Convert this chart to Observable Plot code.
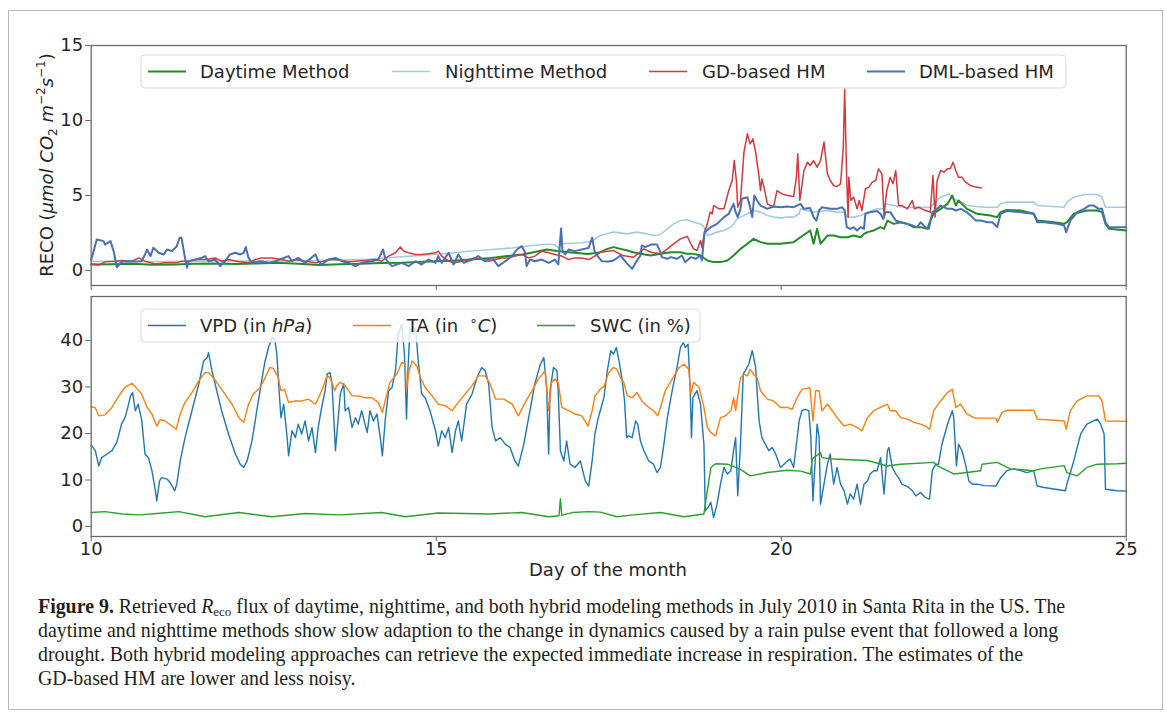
<!DOCTYPE html>
<html>
<head>
<meta charset="utf-8">
<script src="https://cdn.jsdelivr.net/npm/d3@7"></script>
<script src="https://cdn.jsdelivr.net/npm/@observablehq/plot@0.6"></script>
<style>
  html, body { margin: 0; padding: 0; background: #fff; }
  body { width: 1167px; height: 715px; position: relative; overflow: hidden; font-family: "DejaVu Sans", sans-serif; }
  #frame { position: absolute; left: 8px; top: 10px; width: 1155px; height: 700px; border: 1.5px solid #b8b8b8; box-sizing: border-box; }
  #reco { position: absolute; left: 0; top: 0; }
  #meteo { position: absolute; left: 0; top: 290px; }
  #caption { position: absolute; left: 38px; top: 594px; font-family: "Liberation Serif", serif; font-size: 19.9px; line-height: 24px; color: #231f20; white-space: nowrap; }
  #caption sub { font-size: 13px; vertical-align: -3px; line-height: 0; }
</style>
</head>
<body>
<div id="frame"></div>
<div id="reco"></div>
<div id="meteo"></div>
<div id="caption">
  <div><b>Figure 9.</b> Retrieved <i>R</i><sub>eco</sub> flux of daytime, nighttime, and both hybrid modeling methods in July 2010 in Santa Rita in the US. The</div>
  <div>daytime and nighttime methods show slow adaption to the change in dynamics caused by a rain pulse event that followed a long</div>
  <div>drought. Both hybrid modeling approaches can retrieve the expected immediate increase in respiration. The estimates of the</div>
  <div>GD-based HM are lower and less noisy.</div>
</div>
<script>
// ---- axis ticks ----
const dayTicks = [10, 15, 20, 25];
const recoTicks = [0, 5, 10, 15];
const meteoTicks = [0, 10, 20, 30, 40];

// ---- RECO series: [day of month, µmol CO2 m-2 s-1] ----
const daytime = [[10.0,0.4],[10.3,0.42],[10.6,0.45],[10.9,0.38],[11.2,0.4],[11.5,0.45],[11.8,0.47],[12.1,0.44],[12.4,0.46],[12.7,0.52],[13.0,0.45],[13.3,0.36],[13.6,0.42],[13.9,0.45],[14.2,0.5],[14.5,0.52],[14.8,0.58],[15.0,0.62],[15.3,0.67],[15.5,0.73],[15.8,0.84],[16.0,0.95],[16.25,1.07],[16.5,1.3],[16.6,1.4],[16.75,1.3],[17.0,1.18],[17.2,1.1],[17.38,1.22],[17.48,1.44],[17.57,1.56],[17.67,1.44],[17.77,1.33],[17.86,1.22],[17.96,1.11],[18.11,1.0],[18.25,1.11],[18.4,1.22],[18.54,1.22],[18.64,1.11],[18.73,1.11],[18.83,1.0],[18.93,0.67],[19.02,0.56],[19.12,0.56],[19.22,0.67],[19.31,1.0],[19.36,1.22],[19.41,1.44],[19.51,1.78],[19.6,2.11],[19.7,1.89],[19.8,1.78],[19.99,1.78],[20.18,1.89],[20.28,2.22],[20.42,2.67],[20.47,1.78],[20.52,2.78],[20.57,1.78],[20.67,2.33],[20.76,2.33],[20.86,2.22],[20.96,2.22],[21.05,2.33],[21.15,2.22],[21.2,2.44],[21.25,2.56],[21.34,2.67],[21.44,2.89],[21.49,2.78],[21.54,3.33],[21.63,3.11],[21.73,3.22],[21.83,3.11],[21.92,2.89],[22.02,2.89],[22.12,2.78],[22.16,3.33],[22.21,3.78],[22.31,4.11],[22.41,4.44],[22.48,5.0],[22.53,4.33],[22.57,4.67],[22.62,4.44],[22.69,4.11],[22.84,3.78],[23.03,3.67],[23.13,3.56],[23.18,3.89],[23.27,4.04],[23.47,4.0],[23.66,3.78],[23.71,3.33],[23.95,3.22],[24.1,3.11],[24.14,3.22],[24.24,3.78],[24.34,3.89],[24.43,4.0],[24.58,4.0],[24.65,3.89],[24.7,3.11],[24.75,2.78],[25.0,2.67]];

const nighttime = [[10.0,0.62],[10.5,0.6],[11.0,0.6],[11.5,0.62],[12.0,0.64],[12.5,0.62],[13.0,0.65],[13.5,0.68],[14.0,0.75],[14.3,0.85],[14.6,0.95],[14.9,1.05],[15.2,1.15],[15.5,1.3],[15.8,1.4],[16.1,1.5],[16.35,1.65],[16.6,1.75],[16.72,1.72],[16.77,1.5],[16.83,1.78],[17.1,1.85],[17.25,1.95],[17.38,2.33],[17.57,2.56],[17.77,2.44],[17.91,2.56],[18.06,2.44],[18.15,2.33],[18.25,2.4],[18.35,2.78],[18.44,3.11],[18.54,3.33],[18.64,3.38],[18.73,3.22],[18.83,3.11],[18.88,2.89],[18.93,2.33],[19.0,2.44],[19.07,2.56],[19.17,2.67],[19.27,2.89],[19.31,3.11],[19.36,3.44],[19.41,3.56],[19.51,3.78],[19.6,4.0],[19.7,3.89],[19.8,3.67],[19.89,3.56],[19.99,3.51],[20.09,3.56],[20.18,3.56],[20.26,3.78],[20.28,4.11],[20.47,3.89],[20.67,4.0],[20.81,3.89],[20.91,3.89],[20.96,3.56],[21.05,3.56],[21.15,3.67],[21.25,3.89],[21.39,4.11],[21.49,4.11],[21.51,4.44],[21.63,4.33],[21.78,4.22],[21.97,4.22],[22.16,4.22],[22.21,4.44],[22.31,4.89],[22.43,5.11],[22.5,4.78],[22.6,4.56],[22.69,4.33],[22.94,4.22],[23.13,4.22],[23.18,4.44],[23.27,4.56],[23.66,4.56],[23.71,4.33],[24.1,4.22],[24.14,4.56],[24.24,4.89],[24.39,5.07],[24.58,5.07],[24.65,4.89],[24.7,4.22],[25.0,4.22]];

const gdHM = [[10.0,0.44],[10.11,0.36],[10.2,0.58],[10.35,0.62],[10.44,0.67],[10.59,0.62],[10.69,0.84],[10.78,0.62],[10.93,0.44],[11.07,0.51],[11.22,0.51],[11.31,0.62],[11.41,0.62],[11.51,0.73],[11.65,0.73],[11.8,0.84],[11.89,0.62],[11.99,0.73],[12.14,0.58],[12.28,0.51],[12.38,0.73],[12.47,0.84],[12.62,0.84],[12.76,0.73],[12.86,0.62],[12.96,0.73],[13.1,0.62],[13.25,0.51],[13.34,0.58],[13.44,0.73],[13.54,0.73],[13.63,0.67],[13.73,0.58],[13.83,0.62],[13.97,0.67],[14.12,0.73],[14.21,0.62],[14.31,0.96],[14.41,1.18],[14.48,1.56],[14.53,1.29],[14.6,1.18],[14.7,1.07],[14.79,1.07],[14.89,1.11],[14.99,1.18],[15.03,1.29],[15.08,0.96],[15.18,0.62],[15.27,0.51],[15.37,0.62],[15.47,0.73],[15.57,0.84],[15.66,0.73],[15.76,0.62],[15.86,0.73],[15.95,0.84],[16.05,0.84],[16.14,0.96],[16.24,1.07],[16.34,0.84],[16.43,0.96],[16.53,1.29],[16.63,1.18],[16.72,1.07],[16.82,0.96],[16.92,0.73],[17.01,0.84],[17.11,0.84],[17.21,0.73],[17.3,0.96],[17.38,1.22],[17.57,1.33],[17.7,1.0],[17.86,0.89],[18.01,1.44],[18.12,1.2],[18.25,1.11],[18.35,1.44],[18.44,1.78],[18.54,2.11],[18.64,2.27],[18.69,1.78],[18.73,1.44],[18.78,1.33],[18.83,2.0],[18.85,1.56],[18.89,2.56],[18.93,3.11],[18.97,3.89],[19.0,3.78],[19.02,4.33],[19.1,4.11],[19.17,4.11],[19.24,5.33],[19.29,6.0],[19.32,7.33],[19.35,6.0],[19.37,4.22],[19.41,4.67],[19.46,7.89],[19.51,9.11],[19.55,8.44],[19.59,8.78],[19.63,7.89],[19.68,6.22],[19.7,5.33],[19.72,6.11],[19.75,5.56],[19.8,4.44],[19.84,4.33],[19.89,4.27],[19.94,5.33],[20.01,5.11],[20.09,5.0],[20.18,4.93],[20.22,6.22],[20.24,7.78],[20.27,4.67],[20.33,6.67],[20.38,7.22],[20.42,7.0],[20.47,7.33],[20.52,6.89],[20.57,7.33],[20.62,8.56],[20.67,6.44],[20.71,6.0],[20.76,5.67],[20.81,5.6],[20.86,5.78],[20.9,8.22],[20.92,12.1],[20.95,6.0],[20.97,3.56],[20.98,6.22],[21.01,4.67],[21.05,4.89],[21.1,4.11],[21.13,4.67],[21.17,4.0],[21.22,5.44],[21.27,5.56],[21.32,5.89],[21.37,6.0],[21.41,6.78],[21.46,6.44],[21.49,3.67],[21.53,5.33],[21.58,6.22],[21.62,5.78],[21.66,6.67],[21.7,4.33],[21.75,4.33],[21.83,4.11],[21.9,4.67],[21.93,4.11],[21.99,4.22],[22.04,4.11],[22.09,4.0],[22.16,3.89],[22.2,6.33],[22.23,3.56],[22.26,6.0],[22.31,6.67],[22.36,6.56],[22.41,6.78],[22.45,6.78],[22.49,7.22],[22.53,6.67],[22.57,6.22],[22.62,6.22],[22.67,5.89],[22.74,5.67],[22.82,5.56],[22.9,5.5]];

const dmlHM = [[10.0,0.7],[10.03,1.2],[10.08,2.07],[10.18,1.96],[10.2,1.73],[10.28,1.96],[10.33,1.2],[10.37,0.22],[10.45,0.62],[10.6,0.6],[10.73,0.62],[10.78,1.07],[10.81,1.4],[10.86,0.96],[10.9,1.51],[10.98,1.18],[11.05,1.07],[11.1,1.4],[11.17,1.29],[11.24,1.62],[11.28,2.18],[11.31,2.18],[11.35,1.07],[11.39,0.18],[11.41,0.62],[11.51,0.73],[11.6,0.84],[11.65,0.96],[11.7,0.62],[11.8,0.73],[11.87,0.29],[11.94,0.62],[12.01,1.07],[12.09,1.18],[12.16,1.07],[12.21,1.18],[12.24,1.56],[12.28,0.84],[12.33,0.51],[12.45,0.62],[12.57,0.51],[12.67,0.62],[12.86,0.96],[12.91,0.62],[13.0,0.84],[13.1,0.51],[13.25,1.07],[13.29,0.62],[13.34,0.4],[13.44,0.73],[13.54,0.84],[13.63,0.62],[13.73,0.51],[13.83,0.29],[13.92,0.51],[14.07,0.62],[14.16,0.73],[14.23,1.4],[14.26,0.84],[14.31,0.51],[14.36,0.29],[14.5,0.51],[14.6,0.29],[14.7,0.62],[14.79,0.4],[14.89,0.73],[14.99,0.51],[15.03,0.96],[15.08,0.51],[15.18,1.18],[15.25,0.4],[15.32,1.07],[15.4,0.51],[15.52,0.73],[15.61,0.96],[15.71,0.62],[15.81,0.84],[15.9,0.29],[16.0,0.62],[16.1,0.96],[16.17,1.4],[16.24,1.62],[16.29,1.18],[16.31,0.29],[16.36,0.73],[16.43,0.62],[16.53,0.73],[16.63,0.51],[16.72,0.73],[16.77,0.4],[16.81,2.8],[16.83,1.29],[16.87,1.07],[16.92,1.4],[17.01,1.29],[17.11,1.4],[17.21,1.51],[17.26,2.18],[17.3,1.18],[17.4,0.62],[17.5,0.6],[17.57,0.67],[17.67,1.0],[17.77,0.44],[17.84,0.11],[17.91,0.67],[17.96,1.0],[17.98,1.67],[18.03,1.56],[18.11,1.73],[18.2,1.73],[18.24,1.33],[18.27,0.89],[18.35,0.78],[18.4,0.89],[18.49,0.78],[18.56,1.0],[18.61,0.56],[18.69,0.89],[18.76,0.78],[18.83,1.0],[18.85,0.67],[18.89,2.56],[18.98,2.89],[19.07,3.11],[19.17,3.56],[19.24,3.78],[19.31,4.44],[19.34,3.89],[19.37,3.56],[19.41,4.11],[19.43,4.78],[19.51,4.89],[19.55,4.22],[19.58,3.56],[19.61,5.0],[19.65,4.67],[19.7,4.33],[19.75,4.22],[19.8,4.11],[19.89,4.27],[19.99,4.22],[20.09,4.27],[20.18,4.22],[20.28,4.44],[20.33,4.11],[20.42,4.16],[20.47,3.56],[20.51,3.33],[20.55,4.0],[20.59,4.22],[20.71,4.11],[20.81,4.11],[20.88,4.22],[20.92,4.0],[20.95,2.89],[21.0,2.78],[21.05,2.89],[21.1,2.67],[21.15,2.89],[21.2,2.78],[21.22,3.78],[21.29,3.89],[21.39,3.96],[21.44,3.78],[21.48,3.44],[21.51,3.89],[21.58,3.89],[21.66,3.33],[21.73,3.22],[21.83,3.11],[21.9,3.0],[21.97,2.89],[22.02,3.22],[22.09,2.89],[22.14,2.78],[22.19,3.89],[22.26,4.11],[22.31,4.33],[22.41,4.11],[22.48,4.11],[22.53,4.0],[22.6,4.11],[22.69,3.89],[22.77,3.56],[22.82,3.33],[22.89,3.33],[22.99,3.22],[23.06,3.22],[23.13,2.89],[23.18,3.78],[23.27,3.96],[23.47,3.89],[23.66,3.78],[23.71,3.22],[23.81,3.22],[24.0,3.11],[24.1,3.0],[24.13,2.56],[24.19,3.33],[24.29,3.89],[24.39,4.11],[24.46,4.33],[24.53,4.33],[24.6,4.11],[24.65,4.11],[24.7,3.22],[24.75,2.89],[25.0,2.89]];

// ---- meteorological drivers: [day of month, value] ----
const vpd = [[10.0,17.5],[10.06,16.3],[10.11,13.0],[10.15,14.8],[10.23,15.6],[10.3,16.3],[10.37,18.1],[10.44,22.0],[10.49,23.4],[10.53,25.6],[10.57,28.1],[10.6,28.8],[10.64,24.9],[10.68,26.3],[10.73,23.1],[10.78,15.6],[10.83,14.8],[10.88,12.0],[10.93,7.7],[10.95,5.5],[10.99,9.8],[11.02,10.5],[11.1,10.2],[11.14,9.5],[11.21,7.7],[11.24,9.1],[11.29,14.1],[11.36,19.1],[11.46,24.9],[11.56,30.7],[11.63,35.6],[11.68,36.3],[11.7,37.4],[11.75,33.5],[11.82,29.2],[11.89,24.9],[11.99,19.9],[12.09,15.6],[12.16,13.4],[12.21,12.7],[12.26,14.1],[12.33,18.4],[12.4,24.9],[12.47,31.3],[12.52,35.6],[12.57,38.5],[12.62,40.6],[12.66,40.3],[12.69,37.1],[12.72,29.9],[12.75,23.4],[12.79,26.3],[12.84,19.1],[12.86,15.2],[12.91,20.6],[12.96,19.1],[13.0,22.0],[13.05,19.9],[13.1,22.7],[13.15,18.4],[13.2,21.3],[13.25,15.9],[13.29,21.3],[13.34,25.6],[13.39,29.2],[13.42,32.8],[13.46,33.1],[13.49,30.7],[13.54,16.3],[13.56,19.9],[13.61,28.5],[13.66,30.7],[13.68,24.9],[13.73,25.6],[13.78,21.3],[13.83,23.4],[13.87,22.0],[13.92,24.9],[14.0,20.2],[14.04,24.9],[14.09,22.7],[14.14,24.2],[14.19,19.1],[14.22,15.2],[14.26,22.7],[14.31,29.2],[14.36,29.9],[14.41,33.5],[14.45,41.4],[14.5,43.5],[14.54,37.1],[14.57,23.1],[14.59,33.5],[14.62,42.8],[14.67,41.4],[14.7,42.8],[14.74,35.6],[14.79,28.5],[14.84,27.7],[14.91,24.9],[14.99,20.6],[15.03,17.3],[15.08,20.6],[15.13,19.1],[15.18,21.3],[15.23,15.9],[15.28,20.6],[15.32,22.7],[15.37,18.4],[15.44,26.3],[15.52,28.5],[15.59,32.0],[15.66,34.2],[15.71,33.5],[15.76,30.7],[15.81,21.3],[15.86,18.4],[15.93,19.1],[16.0,17.7],[16.07,17.0],[16.14,14.1],[16.19,13.0],[16.27,17.7],[16.34,23.4],[16.43,30.7],[16.51,34.9],[16.56,36.3],[16.6,29.9],[16.63,15.6],[16.65,29.2],[16.7,34.2],[16.75,33.5],[16.77,28.5],[16.8,16.3],[16.85,14.1],[16.89,18.4],[16.94,13.4],[17.01,12.7],[17.09,14.1],[17.16,9.8],[17.21,8.7],[17.26,14.1],[17.3,19.9],[17.35,23.4],[17.43,27.7],[17.48,33.5],[17.53,37.8],[17.57,37.1],[17.61,38.5],[17.65,35.6],[17.69,32.0],[17.73,27.0],[17.76,19.1],[17.79,19.5],[17.84,19.1],[17.89,22.7],[17.92,22.0],[17.96,18.4],[18.01,16.3],[18.08,14.1],[18.15,13.4],[18.2,11.6],[18.25,12.7],[18.3,17.7],[18.35,23.4],[18.42,29.2],[18.49,34.2],[18.54,38.5],[18.58,39.6],[18.61,38.5],[18.65,39.2],[18.68,29.9],[18.7,19.1],[18.72,27.7],[18.78,29.2],[18.83,26.3],[18.88,17.7],[18.9,3.4],[18.94,4.1],[18.98,5.2],[19.02,1.9],[19.07,4.8],[19.12,9.1],[19.17,12.7],[19.22,11.3],[19.27,12.0],[19.31,16.3],[19.34,19.1],[19.37,6.6],[19.41,17.7],[19.45,32.8],[19.48,33.5],[19.53,34.9],[19.58,37.8],[19.63,34.2],[19.65,29.2],[19.68,22.7],[19.72,19.1],[19.77,17.7],[19.82,16.3],[19.87,17.0],[19.92,15.6],[19.99,12.7],[20.04,13.4],[20.09,14.1],[20.13,14.5],[20.18,12.7],[20.26,22.7],[20.3,24.9],[20.35,25.2],[20.4,24.9],[20.43,19.1],[20.46,5.5],[20.5,16.3],[20.52,22.0],[20.55,19.1],[20.57,4.8],[20.62,9.1],[20.67,13.4],[20.71,15.6],[20.76,9.1],[20.81,12.7],[20.86,9.1],[20.91,7.7],[20.96,4.8],[21.0,7.0],[21.05,5.9],[21.1,9.1],[21.15,4.8],[21.2,9.1],[21.25,9.8],[21.29,11.3],[21.34,12.0],[21.39,12.0],[21.44,14.8],[21.49,7.0],[21.54,16.3],[21.56,17.0],[21.61,12.7],[21.66,11.3],[21.7,10.5],[21.75,9.1],[21.8,8.8],[21.85,8.4],[21.9,7.7],[21.95,6.6],[22.02,7.3],[22.09,6.2],[22.15,5.9],[22.19,12.0],[22.24,13.4],[22.28,13.4],[22.33,17.7],[22.41,22.0],[22.48,24.9],[22.5,23.4],[22.54,13.0],[22.57,17.7],[22.62,16.3],[22.67,13.4],[22.72,9.8],[22.77,9.1],[22.84,9.1],[22.94,8.8],[23.11,8.7],[23.18,10.5],[23.27,12.0],[23.37,12.4],[23.47,12.0],[23.56,11.6],[23.66,12.0],[23.71,8.7],[23.81,8.4],[24.12,7.7],[24.14,9.1],[24.24,14.1],[24.34,19.9],[24.43,22.0],[24.58,23.1],[24.63,22.0],[24.68,19.9],[24.7,8.0],[24.87,7.7],[25.0,7.6]];

const ta = [[10.0,25.8],[10.06,25.5],[10.11,23.8],[10.2,24.0],[10.3,25.6],[10.4,28.1],[10.49,29.9],[10.59,30.8],[10.66,29.7],[10.73,28.5],[10.81,25.6],[10.88,24.2],[10.95,21.6],[11.0,23.0],[11.07,22.7],[11.17,21.6],[11.23,20.9],[11.29,24.2],[11.36,26.7],[11.46,28.8],[11.56,31.3],[11.65,33.1],[11.7,33.1],[11.77,32.0],[11.89,29.5],[12.04,26.3],[12.14,23.4],[12.21,22.4],[12.28,26.3],[12.35,28.5],[12.45,29.9],[12.52,32.0],[12.59,34.2],[12.64,34.0],[12.71,32.0],[12.75,29.2],[12.8,29.5],[12.86,26.7],[12.96,27.0],[13.05,27.0],[13.15,27.4],[13.25,26.3],[13.34,29.2],[13.42,32.4],[13.46,32.0],[13.53,29.2],[13.56,30.3],[13.61,31.0],[13.68,30.3],[13.78,28.1],[13.87,28.1],[13.97,27.7],[14.07,27.7],[14.16,26.7],[14.22,24.5],[14.26,27.0],[14.33,31.0],[14.43,32.8],[14.5,35.3],[14.55,35.0],[14.57,29.5],[14.6,33.1],[14.65,35.6],[14.72,34.5],[14.77,32.0],[14.84,29.9],[14.94,28.1],[15.03,26.3],[15.13,26.0],[15.23,24.9],[15.32,26.7],[15.42,28.5],[15.52,30.3],[15.61,32.4],[15.71,32.4],[15.78,30.7],[15.86,27.4],[15.98,27.4],[16.1,26.3],[16.19,23.8],[16.29,26.7],[16.39,29.2],[16.48,31.7],[16.58,33.5],[16.63,24.9],[16.67,30.9],[16.72,31.7],[16.77,30.9],[16.82,25.6],[16.92,24.9],[17.01,24.2],[17.11,23.8],[17.2,21.6],[17.26,24.9],[17.3,28.1],[17.4,29.9],[17.43,30.0],[17.5,33.1],[17.57,34.2],[17.62,33.8],[17.67,32.0],[17.72,30.9],[17.77,28.1],[17.84,27.7],[17.91,28.8],[17.98,27.0],[18.08,25.6],[18.15,24.9],[18.21,23.8],[18.25,25.6],[18.32,29.2],[18.42,31.7],[18.52,34.2],[18.59,34.9],[18.66,33.8],[18.69,28.5],[18.73,31.0],[18.81,29.9],[18.88,25.6],[18.93,21.3],[18.98,20.2],[19.05,19.5],[19.12,23.4],[19.19,23.8],[19.27,24.9],[19.31,27.7],[19.34,24.9],[19.41,32.0],[19.46,32.7],[19.51,32.4],[19.55,33.8],[19.6,32.7],[19.65,32.0],[19.7,29.2],[19.8,27.4],[19.89,27.0],[19.99,25.6],[20.09,25.6],[20.16,25.2],[20.23,27.7],[20.3,29.5],[20.38,29.7],[20.415,29.9],[20.46,22.7],[20.5,29.2],[20.55,29.2],[20.59,24.9],[20.67,26.3],[20.74,24.9],[20.81,23.4],[20.91,21.6],[21.0,22.0],[21.1,21.3],[21.17,20.6],[21.25,23.4],[21.34,24.9],[21.44,25.6],[21.54,26.3],[21.58,24.9],[21.66,24.9],[21.73,23.4],[21.83,23.1],[21.92,22.4],[22.02,22.0],[22.09,21.6],[22.15,20.9],[22.21,24.9],[22.31,27.0],[22.41,28.8],[22.48,29.5],[22.53,25.6],[22.6,26.3],[22.69,24.2],[22.79,23.4],[22.86,23.3],[23.11,23.3],[23.13,22.4],[23.2,24.5],[23.27,25.0],[23.66,25.0],[23.71,23.1],[24.1,22.7],[24.13,20.9],[24.19,24.9],[24.29,27.0],[24.43,28.1],[24.6,28.1],[24.65,27.0],[24.7,22.7],[25.0,22.6]];

const swc = [[10.0,3.0],[10.2,3.2],[10.45,2.7],[10.7,2.5],[10.95,2.8],[11.27,3.2],[11.65,2.1],[12.14,3.0],[12.62,2.1],[13.1,2.8],[13.6,2.5],[14.21,3.0],[14.55,2.1],[15.03,2.9],[15.76,2.7],[16.24,3.0],[16.63,2.1],[16.78,2.3],[16.8,6.0],[16.82,2.4],[16.97,3.0],[17.21,3.2],[17.38,3.1],[17.62,2.1],[17.86,2.5],[18.25,3.0],[18.59,2.1],[18.88,2.7],[18.93,7.7],[18.98,12.7],[19.05,13.5],[19.22,13.4],[19.41,12.3],[19.55,10.9],[19.8,11.6],[20.09,12.1],[20.28,11.9],[20.425,11.3],[20.45,14.5],[20.57,15.9],[20.59,14.8],[20.76,14.5],[21.25,14.2],[21.54,13.0],[21.73,13.4],[22.21,13.8],[22.26,13.1],[22.5,11.3],[22.69,11.6],[22.89,12.0],[22.91,13.4],[23.13,13.8],[23.32,12.4],[23.66,12.0],[23.76,12.4],[24.1,13.1],[24.14,11.6],[24.29,10.9],[24.43,12.7],[24.58,13.4],[24.87,13.5],[25.0,13.6]];

const X = d => d[0], Y = d => d[1];
const FONT = "DejaVu Sans";
const INK = "#262626";
const FRAME = "#6a6a6a";

const colors = {
  daytime: "#238b23", nighttime: "#a6cadd", gd: "#d33a3c", dml: "#4a6fb3",
  vpd: "#1f77b4", ta: "#ff7f0e", swc: "#2ca02c"
};

// Build a <text> with mixed segments (italic / raised / lowered)
function richText(sel, parts) {
  for (const p of parts) {
    const t = sel.append("tspan").text(p.t);
    if (p.i) t.attr("font-style", "italic");
    if (p.fs) t.attr("font-size", p.fs);
    if (p.dy) t.attr("dy", p.dy);
  }
  return sel;
}

function legend(svg, box, items) {
  const g = d3.select(svg).append("g").attr("text-anchor", "start");
  g.append("rect")
    .attr("x", box.x).attr("y", box.y).attr("width", box.w).attr("height", box.h)
    .attr("rx", 4).attr("fill", "#fff").attr("fill-opacity", 0.8)
    .attr("stroke", "#d9d9d9").attr("stroke-width", 1);
  const cy = box.y + box.h / 2;
  for (const it of items) {
    g.append("line")
      .attr("x1", it.hx).attr("x2", it.hx + 38).attr("y1", cy).attr("y2", cy)
      .attr("stroke", it.color).attr("stroke-width", it.sw);
    const t = g.append("text")
      .attr("x", it.tx).attr("y", cy + 6.5)
      .attr("text-anchor", "start")
      .attr("font-family", FONT).attr("font-size", 18).attr("fill", INK);
    richText(t, it.parts);
  }
}

// ---- upper panel: ecosystem respiration ----
const reco = Plot.plot({
  width: 1167, height: 290,
  marginLeft: 90.7, marginRight: 41.3, marginTop: 45, marginBottom: 5,
  style: { fontFamily: FONT, fontSize: "18px", color: INK, background: "transparent" },
  x: { domain: [10, 25] },
  y: { domain: [-1, 15] },
  marks: [
    Plot.line(nighttime, { x: X, y: Y, stroke: colors.nighttime, strokeWidth: 1.6 }),
    Plot.line(daytime, { x: X, y: Y, stroke: colors.daytime, strokeWidth: 2 }),
    Plot.line(gdHM, { x: X, y: Y, stroke: colors.gd, strokeWidth: 1.5 }),
    Plot.line(dmlHM, { x: X, y: Y, stroke: colors.dml, strokeWidth: 2 }),
    Plot.frame({ stroke: FRAME, strokeWidth: 1.3 }),
    Plot.axisY(recoTicks, { tickSize: 5.5, tickPadding: 2.5, label: null, stroke: FRAME, fill: INK }),
    Plot.axisX(dayTicks, { tickSize: 5, tickFormat: () => "", label: null, stroke: FRAME })
  ]
});
document.getElementById("reco").append(reco);

legend(reco, { x: 141, y: 55, w: 925, h: 33 }, [
  { hx: 148, tx: 200, color: colors.daytime, sw: 2, parts: [{ t: "Daytime Method" }] },
  { hx: 392, tx: 445, color: colors.nighttime, sw: 1.6, parts: [{ t: "Nighttime Method" }] },
  { hx: 649, tx: 702, color: colors.gd, sw: 1.5, parts: [{ t: "GD-based HM" }] },
  { hx: 867, tx: 919, color: colors.dml, sw: 2, parts: [{ t: "DML-based HM" }] }
]);

// y-axis title with units
const ylab = d3.select(reco).append("text")
  .attr("transform", "translate(53,165) rotate(-90)")
  .attr("text-anchor", "middle")
  .attr("font-family", FONT).attr("font-size", 18).attr("fill", INK);
richText(ylab, [
  { t: "RECO (" },
  { t: "\u03bcmol", i: true },
  { t: " CO", i: true },
  { t: "2", fs: 12, dy: 4 },
  { t: " m", i: true, dy: -4 },
  { t: "\u22122", fs: 12, dy: -8 },
  { t: "s", i: true, dy: 8 },
  { t: "\u22121", fs: 12, dy: -8 },
  { t: ")", dy: 8 }
]);

// ---- lower panel: VPD, air temperature, soil water content ----
const meteo = Plot.plot({
  width: 1167, height: 295,
  marginLeft: 90.7, marginRight: 41.3, marginTop: 6, marginBottom: 49,
  style: { fontFamily: FONT, fontSize: "18px", color: INK, background: "transparent" },
  x: { domain: [10, 25] },
  y: { domain: [-2.15, 49.46] },
  marks: [
    Plot.line(vpd, { x: X, y: Y, stroke: colors.vpd, strokeWidth: 1.4 }),
    Plot.line(ta, { x: X, y: Y, stroke: colors.ta, strokeWidth: 1.4 }),
    Plot.line(swc, { x: X, y: Y, stroke: colors.swc, strokeWidth: 1.4 }),
    Plot.frame({ stroke: FRAME, strokeWidth: 1.3 }),
    Plot.axisY(meteoTicks, { tickSize: 5.5, tickPadding: 2.5, label: null, stroke: FRAME, fill: INK }),
    Plot.axisX(dayTicks, { tickSize: 5, tickPadding: 1, label: null, stroke: FRAME, fill: INK })
  ]
});
document.getElementById("meteo").append(meteo);

legend(meteo, { x: 141, y: 19, w: 559, h: 33 }, [
  { hx: 148, tx: 200, color: colors.vpd, sw: 1.4, parts: [{ t: "VPD (in " }, { t: "hPa", i: true }, { t: ")" }] },
  { hx: 353, tx: 407, color: colors.ta, sw: 1.4, parts: [{ t: "TA (in  " }, { t: "\u2218", fs: 13, dy: -7 }, { t: "C", i: true, dy: 7 }, { t: ")" }] },
  { hx: 537, tx: 590, color: colors.swc, sw: 1.4, parts: [{ t: "SWC (in %)" }] }
]);

d3.select(meteo).append("text")
  .attr("x", 608).attr("y", 286)
  .attr("text-anchor", "middle")
  .attr("font-family", FONT).attr("font-size", 18).attr("fill", INK)
  .text("Day of the month");
</script>
</body>
</html>
